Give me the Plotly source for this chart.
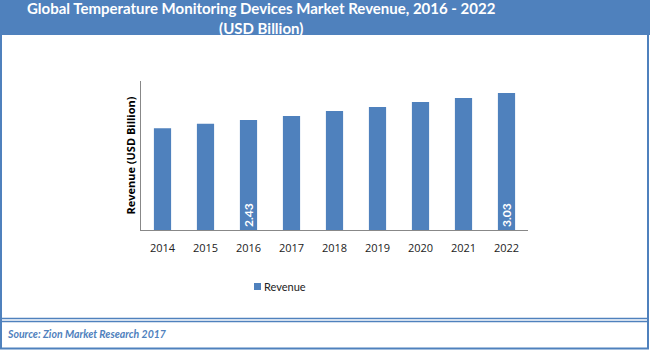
import plotly.graph_objects as go

years = ["2014", "2015", "2016", "2017", "2018", "2019", "2020", "2021", "2022"]
revenue = [2.25, 2.35, 2.43, 2.52, 2.63, 2.72, 2.83, 2.92, 3.03]
labels = ["", "", "2.43", "", "", "", "", "", "3.03"]

title = "Global Temperature Monitoring Devices Market Revenue, 2016 - 2022<br>(USD Billion)"
source = "Source: Zion Market Research 2017"
series_name = "Revenue"

BLUE = "#4F81BD"
W, H = 650, 350
L, R, T, B = 141, 528, 81, 230

def px(x):
    return (x - L) / (R - L)

def py(y):
    return (B - y) / (B - T)

fig = go.Figure()
fig.add_trace(go.Bar(
    x=years, y=revenue, name=series_name,
    marker=dict(color=BLUE, line=dict(width=0)),
    text=labels, textposition="inside", insidetextanchor="start",
    textangle=-90, constraintext="none",
    texttemplate="<b>%{text}</b>",
    textfont=dict(color="white", size=12, family="Lato"),
    cliponaxis=False, showlegend=False,
))

shapes = [
    dict(type="rect", xref="paper", yref="paper", x0=px(0), x1=px(650), y0=py(0), y1=py(35),
         fillcolor=BLUE, line=dict(width=0), layer="below"),
    dict(type="line", xref="paper", yref="paper", x0=px(1), x1=px(1), y0=py(35), y1=py(348.5),
         line=dict(color=BLUE, width=2)),
    dict(type="line", xref="paper", yref="paper", x0=px(648), x1=px(648), y0=py(35), y1=py(348.5),
         line=dict(color=BLUE, width=2)),
    dict(type="line", xref="paper", yref="paper", x0=px(0), x1=px(649), y0=py(348.5), y1=py(348.5),
         line=dict(color=BLUE, width=2)),
    dict(type="line", xref="paper", yref="paper", x0=px(0), x1=px(649), y0=py(318.5), y1=py(318.5),
         line=dict(color=BLUE, width=1.5)),
    dict(type="line", xref="paper", yref="paper", x0=px(0), x1=px(649), y0=py(321.5), y1=py(321.5),
         line=dict(color=BLUE, width=1.5)),
    # legend swatch
    dict(type="rect", xref="paper", yref="paper", x0=px(254), x1=px(261), y0=py(283), y1=py(290),
         fillcolor=BLUE, line=dict(width=0)),
]

annotations = [
    dict(text="<b>" + title + "</b>", xref="paper", yref="paper", x=px(261), y=py(17.5),
         xanchor="center", yanchor="middle",
         showarrow=False, font=dict(color="white", size=15, family="Lato"), align="center"),
    dict(text="<b><i>" + source + "</i></b>", xref="paper", yref="paper", x=px(5), y=py(334),
         xanchor="left", yanchor="middle", showarrow=False,
         font=dict(color=BLUE, size=10.5, family="Lato")),
    dict(text=series_name, xref="paper", yref="paper", x=px(262), y=py(286.5), xanchor="left",
         yanchor="middle", showarrow=False, font=dict(color="#222", size=11, family="Lato")),
]

fig.update_layout(
    width=W, height=H,
    margin=dict(l=L, r=W - R, t=T, b=H - B),
    paper_bgcolor="white", plot_bgcolor="white",
    bargap=0.6,
    showlegend=False,
    xaxis=dict(showline=True, linecolor="#888", linewidth=1, ticks="", showgrid=False,
               tickfont=dict(size=11, family="Open Sans", color="#222"), ticklabelstandoff=8),
    yaxis=dict(range=[0, 3.293], showline=True, linecolor="#888", linewidth=1, showgrid=False,
               showticklabels=False, ticks="", zeroline=False,
               title=dict(text="<b>Revenue (USD Billion)</b>", standoff=2,
                          font=dict(size=11, family="Open Sans", color="black"))),
    shapes=shapes, annotations=annotations,
)

fig.write_html("out.html")
